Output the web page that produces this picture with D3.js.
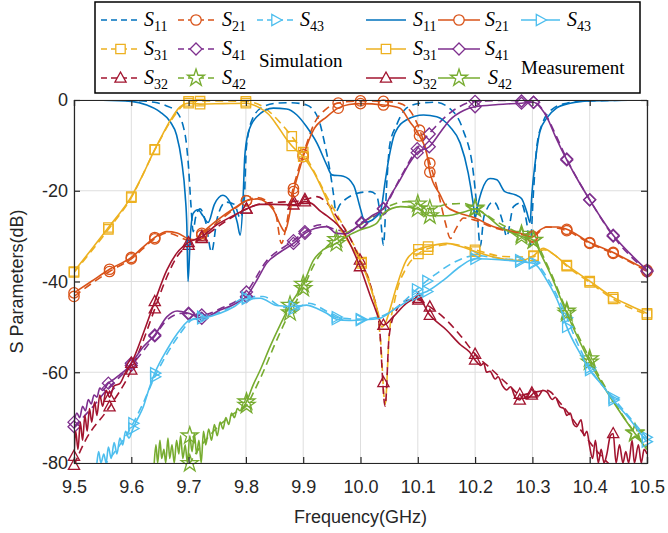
<!DOCTYPE html>
<html><head><meta charset="utf-8">
<script src="https://cdn.jsdelivr.net/npm/d3@7"></script>
<style>
body{margin:0;background:#fff;}
svg text{font-family:"Liberation Sans",Arial,sans-serif;}
</style></head>
<body><div id="chart"></div>
<script>
// ---- data: [frequency GHz, dB] ----
var freqTicks = [9.5,9.6,9.7,9.8,9.9,10.0,10.1,10.2,10.3,10.4,10.5];
var dbTicks = [-80,-60,-40,-20,0];

var s11Sim = [[9.5,0],[9.6,-0.1],[9.64,-0.5],[9.66,-1.2],[9.679,-2.6],[9.694,-7.7],[9.7,-15],[9.704,-23],[9.708,-29],[9.712,-26],[9.72,-24],[9.73,-27],[9.74,-33.5],[9.75,-26],[9.765,-22.5],[9.78,-23],[9.79,-26],[9.797,-22],[9.801,-10.3],[9.812,-4],[9.83,-1.5],[9.854,-0.7],[9.88,-0.6],[9.906,-1.1],[9.926,-4],[9.938,-9.9],[9.947,-15.8],[9.953,-20.9],[9.957,-24.6],[9.964,-23.1],[9.976,-21.7],[9.993,-20.6],[10.017,-20.2],[10.028,-21],[10.035,-26],[10.04,-32],[10.046,-18],[10.051,-9.9],[10.063,-5.5],[10.08,-1.8],[10.104,-0.7],[10.13,-0.5],[10.162,-2.6],[10.179,-6.6],[10.197,-16.1],[10.203,-23.5],[10.209,-32.3],[10.215,-26],[10.22,-24.2],[10.232,-22.4],[10.249,-27.2],[10.255,-30.1],[10.267,-23.5],[10.28,-22.7],[10.29,-27],[10.296,-32.3],[10.302,-20],[10.308,-10],[10.318,-5],[10.335,-2],[10.36,-0.7],[10.4,-0.2],[10.5,0]];
var s11Meas = [[9.5,0],[9.55,-0.05],[9.6,-0.3],[9.627,-1.1],[9.65,-2.6],[9.668,-4.8],[9.679,-7.7],[9.688,-13.6],[9.694,-20.9],[9.697,-28],[9.699,-40],[9.703,-30],[9.708,-25],[9.716,-24.2],[9.725,-25.5],[9.734,-27],[9.745,-23],[9.76,-21],[9.772,-22.5],[9.785,-27],[9.79,-29.8],[9.795,-22],[9.798,-12.5],[9.804,-7.3],[9.819,-3.7],[9.848,-1.8],[9.871,-2.0],[9.889,-3.3],[9.906,-5.9],[9.924,-9.5],[9.941,-14.3],[9.95,-16.5],[9.97,-16.8],[9.988,-18.8],[10.0,-24],[10.008,-27],[10.02,-26.5],[10.035,-24.5],[10.043,-18],[10.05,-12.5],[10.06,-7.3],[10.08,-4.4],[10.11,-3.3],[10.133,-3.7],[10.156,-5.9],[10.174,-9.5],[10.188,-16.1],[10.197,-23.1],[10.2,-26],[10.205,-23],[10.211,-20.2],[10.226,-17.3],[10.238,-17.6],[10.252,-20.2],[10.27,-20.9],[10.281,-21.7],[10.29,-24.6],[10.296,-27],[10.299,-20.9],[10.305,-13.6],[10.313,-7],[10.325,-4],[10.342,-1.8],[10.366,-0.7],[10.4,-0.2],[10.5,0]];

var s21Sim = [[9.5,-43.3],[9.53,-40.5],[9.562,-37.8],[9.6,-35],[9.641,-30.6],[9.662,-29.3],[9.7,-31],[9.712,-31.3],[9.723,-29.8],[9.75,-27],[9.78,-24],[9.801,-22.2],[9.82,-21.5],[9.84,-22.7],[9.852,-25],[9.862,-31.6],[9.87,-28],[9.878,-22],[9.89,-16],[9.9,-12],[9.92,-5],[9.94,-2],[9.96,-0.7],[10.0,-0.2],[10.04,-0.3],[10.07,-0.8],[10.09,-3],[10.106,-7.5],[10.12,-13.5],[10.135,-20],[10.148,-27],[10.157,-30.5],[10.166,-28.5],[10.18,-26],[10.2,-26.5],[10.23,-28],[10.26,-29],[10.3,-30],[10.325,-28],[10.36,-28.8],[10.4,-31.6],[10.441,-33.8],[10.5,-37.8]];
var s21Meas = [[9.5,-42.5],[9.53,-40],[9.562,-37.3],[9.6,-34.7],[9.62,-32.5],[9.641,-30.3],[9.662,-29],[9.68,-29.3],[9.7,-30.6],[9.712,-30.8],[9.723,-29.4],[9.75,-26.5],[9.78,-23.8],[9.801,-22.2],[9.82,-21.8],[9.835,-22.5],[9.848,-24.2],[9.86,-27.5],[9.868,-29],[9.875,-26],[9.883,-20.2],[9.892,-16],[9.9,-12.5],[9.918,-6.6],[9.941,-3.7],[9.961,-1.8],[9.98,-1.0],[10.0,-0.8],[10.04,-1.1],[10.069,-1.8],[10.086,-4.8],[10.103,-7.9],[10.116,-12.1],[10.121,-15.9],[10.139,-20.9],[10.15,-23.5],[10.17,-24.8],[10.2,-26],[10.23,-27.8],[10.26,-28.8],[10.285,-29.6],[10.3,-30.2],[10.31,-29],[10.325,-28],[10.345,-28],[10.36,-28.5],[10.4,-31.4],[10.441,-33.6],[10.47,-35.5],[10.5,-37.5]];

var s31Sim = [[9.5,-38],[9.56,-28.5],[9.6,-21.5],[9.641,-11],[9.668,-4.8],[9.69,-1.2],[9.7,-0.3],[9.75,-0.2],[9.8,-0.3],[9.83,-1.5],[9.86,-5],[9.88,-8],[9.9,-11.5],[9.92,-16],[9.94,-21],[9.96,-25.5],[9.98,-30],[10.0,-35],[10.02,-42],[10.035,-53],[10.043,-67],[10.05,-52],[10.06,-44],[10.08,-37],[10.1,-34],[10.13,-32.3],[10.16,-31.8],[10.2,-33],[10.25,-34.5],[10.3,-34.6],[10.32,-33],[10.34,-34.3],[10.36,-36.6],[10.4,-40.2],[10.44,-43.8],[10.5,-47.3]];
var s31Meas = [[9.5,-37.8],[9.53,-33],[9.56,-28.1],[9.6,-21.3],[9.62,-16.5],[9.641,-10.9],[9.655,-7.5],[9.668,-4.5],[9.685,-1.5],[9.7,-0.7],[9.72,-0.9],[9.76,-0.8],[9.8,-0.7],[9.825,-1.8],[9.84,-3.2],[9.854,-5.5],[9.87,-8.5],[9.88,-10.1],[9.9,-12.5],[9.918,-15.8],[9.935,-20.2],[9.95,-24.6],[9.961,-27.5],[9.98,-31.5],[10.002,-36],[10.017,-41.1],[10.031,-47],[10.037,-50],[10.044,-49],[10.051,-46.3],[10.063,-41.1],[10.08,-35.3],[10.101,-32.9],[10.118,-32.3],[10.15,-31.6],[10.175,-32.3],[10.2,-33.4],[10.243,-34.9],[10.28,-35.4],[10.302,-34.3],[10.319,-32.7],[10.335,-33.8],[10.36,-36.4],[10.4,-39.9],[10.441,-43.5],[10.47,-45.3],[10.5,-47]];

var s41Sim = [[9.5,-72],[9.53,-68],[9.56,-63.5],[9.6,-58.5],[9.641,-52],[9.662,-48.5],[9.69,-47],[9.72,-47.5],[9.755,-46],[9.8,-42.5],[9.836,-35.5],[9.883,-31],[9.903,-29],[9.93,-27.5],[9.955,-28.5],[9.98,-29],[10.002,-27],[10.04,-24],[10.07,-17],[10.1,-10.5],[10.13,-6],[10.16,-2.5],[10.2,-0.3],[10.25,-0.1],[10.3,-0.3],[10.32,-2.5],[10.34,-7.5],[10.36,-13],[10.4,-22],[10.441,-30],[10.5,-37.8]];
var s41Meas = [[9.5,-71],[9.505,-69],[9.51,-70],[9.515,-67.5],[9.52,-68.5],[9.525,-66],[9.53,-67],[9.535,-65],[9.54,-65.5],[9.545,-63.5],[9.55,-64],[9.56,-62.4],[9.57,-61.5],[9.58,-60.5],[9.59,-59.5],[9.6,-58],[9.621,-54.4],[9.641,-51.8],[9.662,-47.8],[9.68,-46.5],[9.7,-47],[9.723,-48.1],[9.755,-46.3],[9.78,-45],[9.801,-43.3],[9.82,-39.5],[9.836,-36],[9.86,-33.5],[9.883,-31.6],[9.903,-29.4],[9.92,-28.3],[9.941,-27.9],[9.958,-29.4],[9.975,-29.5],[9.99,-28.3],[10.002,-27.2],[10.02,-25.5],[10.04,-23.9],[10.055,-20.5],[10.069,-17.6],[10.085,-14],[10.099,-11.6],[10.12,-10.3],[10.14,-7],[10.156,-4.4],[10.18,-2.3],[10.2,-1.5],[10.24,-1],[10.281,-0.7],[10.302,-0.5],[10.315,-1.8],[10.325,-3.7],[10.34,-8],[10.36,-13.2],[10.38,-17.8],[10.4,-22],[10.42,-26],[10.441,-29.8],[10.47,-33.8],[10.5,-37.5]];

var s32Sim = [[9.5,-80.5],[9.52,-75],[9.56,-68],[9.6,-59.5],[9.621,-53],[9.641,-46],[9.662,-39],[9.68,-34.5],[9.7,-32],[9.723,-30.5],[9.75,-28],[9.78,-25.5],[9.801,-24],[9.83,-22.8],[9.86,-22.5],[9.89,-22.3],[9.91,-21.7],[9.924,-21.3],[9.94,-22.5],[9.96,-26],[9.98,-30],[10.0,-35.5],[10.02,-42],[10.033,-50],[10.043,-67.5],[10.05,-52],[10.06,-47],[10.08,-44.2],[10.1,-44],[10.12,-45.5],[10.15,-48.5],[10.175,-52],[10.2,-56],[10.23,-59.5],[10.26,-63],[10.28,-65],[10.3,-64.5],[10.325,-64],[10.35,-67],[10.38,-72],[10.41,-77],[10.44,-81]];
var s32Meas = [[9.5,-78.5],[9.503,-73],[9.507,-77],[9.511,-71],[9.515,-75],[9.519,-69.5],[9.523,-73],[9.527,-68],[9.531,-71],[9.536,-66.5],[9.54,-69.5],[9.545,-65],[9.55,-67.5],[9.556,-64],[9.562,-65.5],[9.57,-63],[9.58,-62.5],[9.59,-60],[9.6,-58],[9.621,-51.4],[9.641,-44.4],[9.662,-37.5],[9.679,-33.8],[9.7,-31.4],[9.723,-30.1],[9.749,-27.5],[9.778,-25.5],[9.801,-24],[9.825,-23],[9.85,-23],[9.883,-23.1],[9.903,-22.4],[9.915,-22.8],[9.93,-24.5],[9.941,-25.5],[9.97,-29],[9.999,-36.7],[10.022,-44.8],[10.04,-49.6],[10.057,-47.8],[10.08,-44.8],[10.101,-43.7],[10.121,-47.4],[10.15,-50.7],[10.175,-54],[10.19,-55.5],[10.2,-57.3],[10.21,-58.5],[10.215,-58],[10.22,-60],[10.226,-59.8],[10.235,-61.5],[10.24,-61],[10.248,-63],[10.255,-63.9],[10.262,-63.2],[10.27,-65.5],[10.278,-66.1],[10.285,-65],[10.29,-65.8],[10.299,-65],[10.305,-64.2],[10.31,-65.3],[10.318,-64],[10.325,-64.3],[10.335,-66],[10.34,-65.5],[10.348,-67.6],[10.355,-68],[10.36,-69.5],[10.366,-69],[10.372,-71.5],[10.377,-72],[10.385,-70.5],[10.39,-74],[10.395,-73],[10.4,-76.4],[10.405,-79],[10.41,-75],[10.415,-80],[10.42,-77],[10.425,-80],[10.43,-78],[10.436,-74],[10.441,-73.5],[10.446,-80],[10.452,-76],[10.458,-80],[10.463,-77.5],[10.468,-80],[10.474,-75],[10.478,-80],[10.485,-76],[10.49,-80],[10.495,-77],[10.5,-78]];

var s42Sim = [[9.7,-80.5],[9.72,-76.5],[9.74,-73.5],[9.76,-71],[9.78,-69],[9.8,-67.5],[9.815,-64],[9.83,-60],[9.85,-54],[9.87,-48.5],[9.885,-45],[9.9,-41.5],[9.92,-36],[9.94,-32.5],[9.96,-30.5],[10.0,-27.5],[10.04,-24],[10.08,-22.4],[10.098,-22.8],[10.121,-24],[10.15,-23],[10.18,-22.8],[10.2,-23.8],[10.24,-27],[10.28,-29.5],[10.3,-30.5],[10.33,-37.5],[10.36,-46.5],[10.4,-57],[10.44,-66],[10.48,-73.5],[10.5,-76.5]];
var s42Meas = [[9.64,-80],[9.643,-76],[9.646,-80],[9.65,-75],[9.653,-79],[9.657,-77],[9.66,-80],[9.664,-74.5],[9.667,-79],[9.671,-76],[9.675,-80],[9.679,-75],[9.683,-78],[9.686,-74],[9.69,-79],[9.694,-76],[9.698,-80],[9.702,-74],[9.706,-77.5],[9.71,-73.5],[9.714,-78],[9.718,-75],[9.722,-80],[9.726,-73],[9.73,-76],[9.735,-72.5],[9.74,-75],[9.745,-71.5],[9.75,-74],[9.755,-71],[9.76,-72.5],[9.765,-70],[9.77,-71.5],[9.775,-69],[9.78,-70],[9.785,-68],[9.79,-68.5],[9.801,-66.5],[9.812,-63],[9.825,-59.5],[9.842,-54.4],[9.86,-49.5],[9.877,-45.2],[9.9,-40.6],[9.918,-35.3],[9.935,-33],[9.958,-31.6],[9.98,-29.8],[10.0,-28.6],[10.028,-27.2],[10.04,-25],[10.07,-23.5],[10.1,-24],[10.121,-25.5],[10.15,-25.5],[10.185,-24.5],[10.2,-24],[10.22,-25.5],[10.243,-27.9],[10.281,-30.1],[10.302,-30.9],[10.315,-34],[10.331,-38.2],[10.36,-47],[10.4,-57.7],[10.441,-66.5],[10.479,-73.5],[10.5,-77]];

var s43Sim = [[9.55,-81],[9.58,-76],[9.6,-72],[9.62,-67],[9.641,-61],[9.662,-56],[9.685,-51.5],[9.705,-48.5],[9.73,-47.5],[9.76,-46.5],[9.8,-43.5],[9.83,-43.3],[9.86,-45.5],[9.883,-46],[9.91,-44.8],[9.94,-46.5],[9.96,-48],[10.0,-48.3],[10.04,-47.5],[10.07,-45],[10.1,-41.5],[10.13,-38.5],[10.16,-36],[10.2,-34.3],[10.25,-35],[10.3,-35.5],[10.325,-39],[10.35,-45],[10.38,-54],[10.4,-59],[10.44,-65.5],[10.47,-70],[10.5,-74.5]];
var s43Meas = [[9.54,-80],[9.543,-77.5],[9.547,-80],[9.552,-78],[9.556,-80],[9.56,-76.5],[9.565,-79],[9.57,-75.5],[9.575,-78],[9.58,-74.5],[9.585,-76],[9.59,-73],[9.596,-74.5],[9.603,-72.4],[9.61,-70.5],[9.621,-67.6],[9.63,-64],[9.641,-60.2],[9.662,-55.1],[9.685,-50.7],[9.702,-48.5],[9.723,-48.1],[9.755,-47],[9.78,-45.5],[9.801,-43.8],[9.825,-43.7],[9.854,-45.3],[9.883,-45.5],[9.906,-45.2],[9.925,-46],[9.941,-47],[9.958,-48.3],[9.98,-48.6],[10.0,-48.5],[10.034,-48.1],[10.057,-46.3],[10.08,-44.5],[10.098,-43],[10.116,-42.2],[10.145,-39.7],[10.174,-36.7],[10.2,-35],[10.243,-35.2],[10.278,-35.6],[10.302,-36],[10.325,-39.7],[10.348,-45.5],[10.36,-50],[10.383,-55.8],[10.4,-59.5],[10.424,-63.2],[10.441,-66.1],[10.471,-70.5],[10.499,-75.3]];

// marker frequencies
var s21Marks = [9.5,9.562,9.6,9.641,9.723,9.801,9.883,9.9,9.961,10.0,10.04,10.103,10.121,10.3,10.36,10.4,10.441,10.5];
var s31Marks = [9.5,9.56,9.6,9.641,9.7,9.72,9.8,9.88,9.9,10.002,10.101,10.118,10.2,10.302,10.36,10.4,10.441,10.5];
var s32Marks = [9.5,9.562,9.6,9.641,9.7,9.723,9.801,9.883,9.903,9.999,10.04,10.101,10.121,10.2,10.278,10.299,10.441];
var s41Marks = [9.5,9.56,9.6,9.641,9.7,9.723,9.801,9.883,9.903,10.002,10.04,10.099,10.12,10.2,10.281,10.302,10.36,10.4,10.441,10.5];
var s42Marks = [9.702,9.801,9.877,9.9,9.958,10.1,10.121,10.2,10.281,10.302,10.36,10.4,10.479];
var s43Marks = [9.603,9.641,9.723,9.801,9.883,9.958,10.0,10.098,10.116,10.2,10.278,10.302,10.36,10.4,10.441,10.499];

var C = {s11:"#0072BD", s21:"#D95319", s31:"#EDB120", s41:"#7E2F8E", s32:"#A2142F", s42:"#77AC30", s43:"#4DBEEE"};

var series = [
  {data:s11Sim, color:C.s11, dash:true, mark:null, marks:[]},
  {data:s21Sim, color:C.s21, dash:true, mark:"circle", marks:s21Marks},
  {data:s31Sim, color:C.s31, dash:true, mark:"square", marks:s31Marks},
  {data:s41Sim, color:C.s41, dash:true, mark:"diamond", marks:s41Marks},
  {data:s32Sim, color:C.s32, dash:true, mark:"triangle", marks:s32Marks},
  {data:s42Sim, color:C.s42, dash:true, mark:"star", marks:s42Marks},
  {data:s43Sim, color:C.s43, dash:true, mark:"tright", marks:s43Marks},
  {data:s11Meas, color:C.s11, dash:false, mark:null, marks:[]},
  {data:s21Meas, color:C.s21, dash:false, mark:"circle", marks:s21Marks},
  {data:s31Meas, color:C.s31, dash:false, mark:"square", marks:s31Marks},
  {data:s41Meas, color:C.s41, dash:false, mark:"diamond", marks:s41Marks},
  {data:s32Meas, color:C.s32, dash:false, mark:"triangle", marks:s32Marks},
  {data:s42Meas, color:C.s42, dash:false, mark:"star", marks:s42Marks},
  {data:s43Meas, color:C.s43, dash:false, mark:"tright", marks:s43Marks}
];

var W = 668, H = 533;
var x = d3.scaleLinear().domain([9.5,10.5]).range([74,647]);
var y = d3.scaleLinear().domain([-80,0]).range([463,100]);

var svg = d3.select("#chart").append("svg").attr("width",W).attr("height",H);

svg.append("defs").append("clipPath").attr("id","plotclip")
  .append("rect").attr("x",x(9.5)).attr("y",y(0)).attr("width",x(10.5)-x(9.5)).attr("height",y(-80)-y(0));

// grid
var grid = svg.append("g").attr("class","grid");
grid.selectAll("line.gx").data(freqTicks).enter().append("line")
  .attr("x1",function(d){return x(d);}).attr("x2",function(d){return x(d);})
  .attr("y1",y(0)).attr("y2",y(-80))
  .style("stroke","#dedede").style("stroke-width",1);
grid.selectAll("line.gy").data(dbTicks).enter().append("line")
  .attr("y1",function(d){return y(d);}).attr("y2",function(d){return y(d);})
  .attr("x1",x(9.5)).attr("x2",x(10.5))
  .style("stroke","#dedede").style("stroke-width",1);

function markPath(type){
  if(type=="circle") return d3.symbol(d3.symbolCircle,85)();
  if(type=="square") return "M-4.7,-4.7h9.4v9.4h-9.4Z";
  if(type=="diamond") return "M0,-6L6,0L0,6L-6,0Z";
  if(type=="triangle") return "M0,-6L5.6,4.2L-5.6,4.2Z";
  if(type=="tright") return "M6,0L-4.2,-5.6L-4.2,5.6Z";
  if(type=="star") return d3.symbol(d3.symbolStar,90)();
  return "";
}

function valAt(data, f){
  for(var i=1;i<data.length;i++){
    if(data[i][0]>=f){
      var a=data[i-1], b=data[i], t=(f-a[0])/(b[0]-a[0]);
      return a[1]+t*(b[1]-a[1]);
    }
  }
  return data[data.length-1][1];
}

var line = d3.line().x(function(d){return x(d[0]);}).y(function(d){return y(d[1]);}).curve(d3.curveMonotoneX);

var plot = svg.append("g");
series.forEach(function(s){
  plot.append("path").datum(s.data)
    .attr("d",line)
    .attr("clip-path","url(#plotclip)")
    .style("fill","none")
    .style("stroke",s.color)
    .style("stroke-width",1.6)
    .style("stroke-dasharray",s.dash ? "8,5" : null);
  var pts = s.marks.filter(function(f){return f>=s.data[0][0] && f<=s.data[s.data.length-1][0];});
  plot.selectAll(null).data(pts).enter().append("path")
    .attr("d",markPath(s.mark))
    .attr("transform",function(f){return "translate("+x(f)+","+y(valAt(s.data,f))+")";})
    .style("fill","none").style("stroke",s.color).style("stroke-width",1.3);
});

// axes (MATLAB style box with inward ticks)
var fmtX = d3.format(".1f");
var axB = svg.append("g").attr("transform","translate(0,"+y(-80)+")")
  .call(d3.axisBottom(x).tickValues(freqTicks).tickSize(-6).tickPadding(17).tickFormat(fmtX));
var axT = svg.append("g").attr("transform","translate(0,"+y(0)+")")
  .call(d3.axisTop(x).tickValues(freqTicks).tickSize(-6).tickFormat(""));
var axL = svg.append("g").attr("transform","translate("+x(9.5)+",0)")
  .call(d3.axisLeft(y).tickValues(dbTicks).tickSize(-6).tickPadding(6).tickFormat(function(d){return String(d);}));
var axR = svg.append("g").attr("transform","translate("+x(10.5)+",0)")
  .call(d3.axisRight(y).tickValues(dbTicks).tickSize(-6).tickFormat(""));
[axB,axT,axL,axR].forEach(function(a){
  a.select(".domain").style("stroke","#262626").style("stroke-width",1.2);
  a.selectAll(".tick line").style("stroke","#262626").style("stroke-width",1.2);
  a.selectAll(".tick text").style("font-size","18px").style("fill","#262626")
    .style("font-family","'Liberation Sans',Arial,sans-serif");
});

svg.append("text").attr("x",(x(9.5)+x(10.5))/2).attr("y",523)
  .attr("text-anchor","middle").style("font-size","18px").style("fill","#262626")
  .text("Frequency(GHz)");
svg.append("text").attr("transform","translate(23,"+((y(0)+y(-80))/2)+") rotate(-90)")
  .attr("text-anchor","middle").style("font-size","18px").style("fill","#262626")
  .text("S Parameters(dB)");

// legend
var lg = svg.append("g");
lg.append("rect").attr("x",95).attr("y",2).attr("width",545).attr("height",91)
  .style("fill","#fff").style("stroke","#000").style("stroke-width",1.5);

var rows = [20,49,78];
var legendItems = [
  {c:C.s11,d:true,m:null,sub:"11",r:0,x0:101,x1:140,tx:144},
  {c:C.s21,d:true,m:"circle",sub:"21",r:0,x0:178,x1:214,tx:222},
  {c:C.s43,d:true,m:"tright",sub:"43",r:0,x0:257,x1:295,tx:300},
  {c:C.s31,d:true,m:"square",sub:"31",r:1,x0:101,x1:140,tx:144},
  {c:C.s41,d:true,m:"diamond",sub:"41",r:1,x0:178,x1:214,tx:222},
  {c:C.s32,d:true,m:"triangle",sub:"32",r:2,x0:101,x1:140,tx:144},
  {c:C.s42,d:true,m:"star",sub:"42",r:2,x0:178,x1:214,tx:222},
  {c:C.s11,d:false,m:null,sub:"11",r:0,x0:366,x1:406,tx:413},
  {c:C.s21,d:false,m:"circle",sub:"21",r:0,x0:438,x1:480,tx:485},
  {c:C.s43,d:false,m:"tright",sub:"43",r:0,x0:521,x1:560,tx:567},
  {c:C.s31,d:false,m:"square",sub:"31",r:1,x0:366,x1:406,tx:413},
  {c:C.s41,d:false,m:"diamond",sub:"41",r:1,x0:438,x1:480,tx:485},
  {c:C.s32,d:false,m:"triangle",sub:"32",r:2,x0:366,x1:406,tx:413},
  {c:C.s42,d:false,m:"star",sub:"42",r:2,x0:438,x1:480,tx:488}
];
legendItems.forEach(function(it){
  var yy = rows[it.r];
  lg.append("line").attr("x1",it.x0).attr("x2",it.x1).attr("y1",yy).attr("y2",yy)
    .style("stroke",it.c).style("stroke-width",1.6).style("stroke-dasharray",it.d?"6,4":null);
  if(it.m) lg.append("path").attr("d",markPath(it.m))
    .attr("transform","translate("+((it.x0+it.x1)/2)+","+yy+")")
    .style("fill","#fff").style("stroke",it.c).style("stroke-width",1.3);
  var t = lg.append("text").attr("x",it.tx).attr("y",yy+6)
    .style("font-family","'Liberation Serif','Times New Roman',serif").style("font-size","20px").style("fill","#000");
  t.append("tspan").style("font-style","italic").text("S");
  t.append("tspan").attr("dy",5).style("font-size","14px").text(it.sub);
});
lg.append("text").attr("x",259).attr("y",67)
  .style("font-family","'Liberation Serif','Times New Roman',serif").style("font-size","19px").style("fill","#000")
  .text("Simulation");
lg.append("text").attr("x",521).attr("y",74)
  .style("font-family","'Liberation Serif','Times New Roman',serif").style("font-size","19px").style("fill","#000")
  .text("Measurement");
</script>
</body></html>
